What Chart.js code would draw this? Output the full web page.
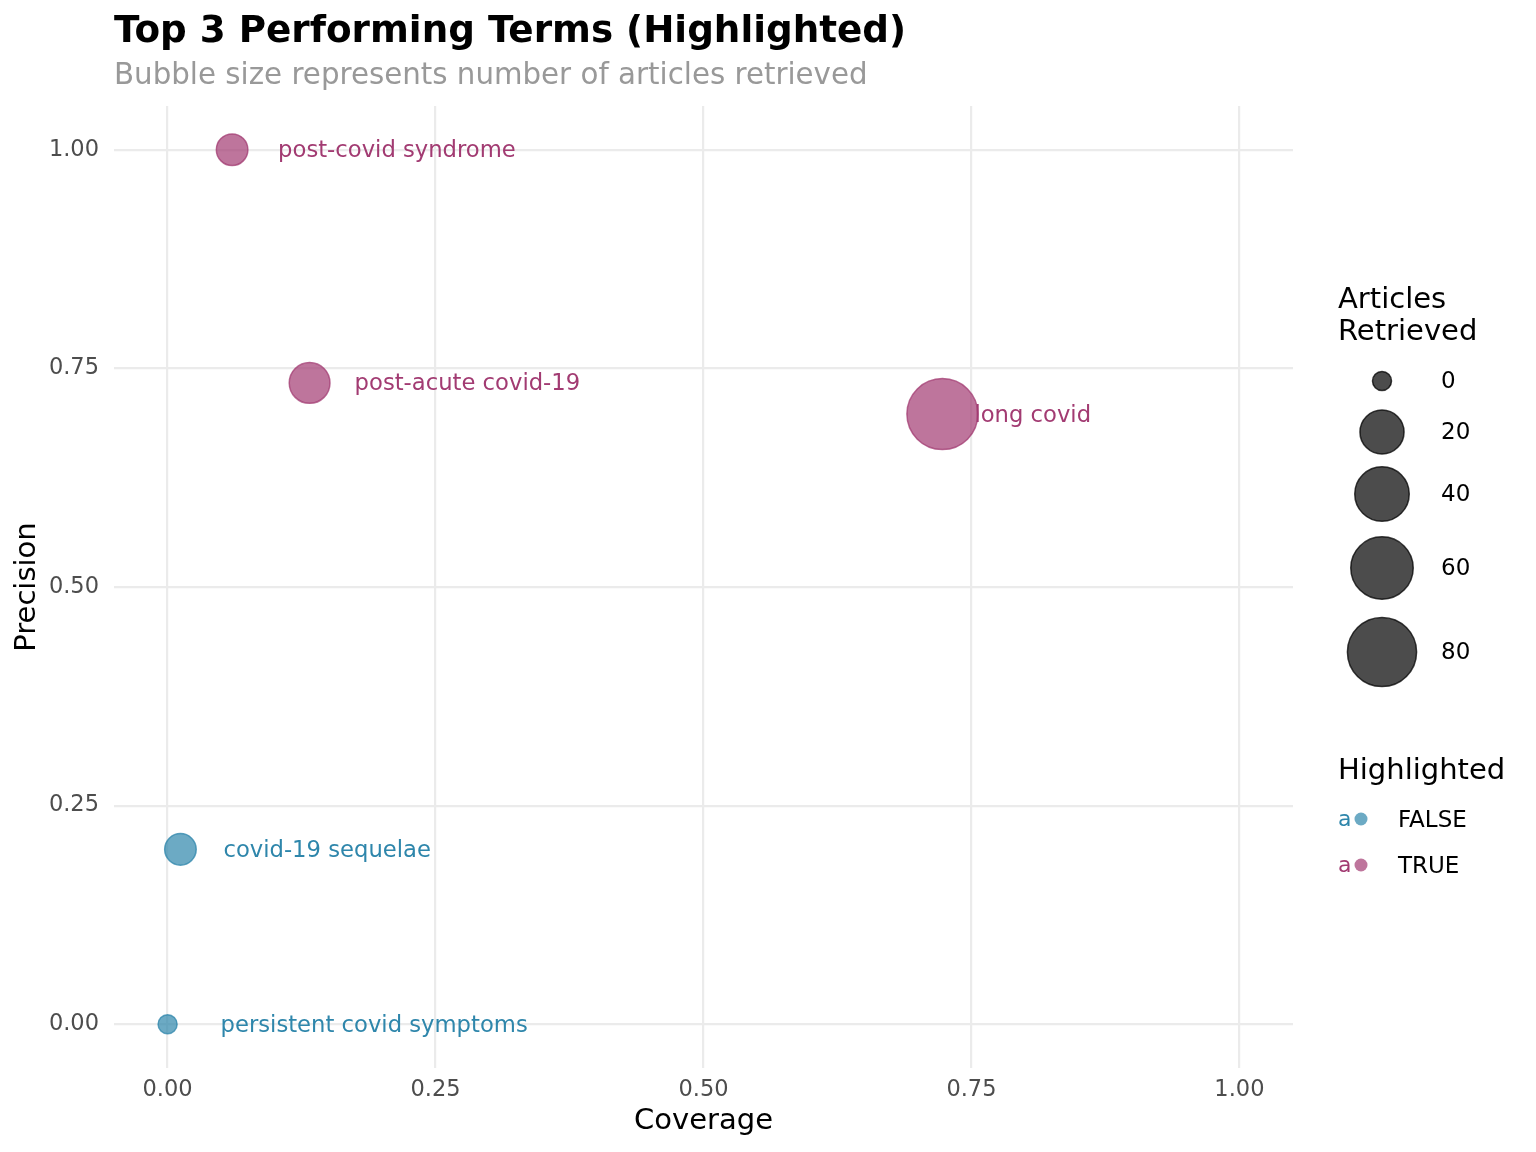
<!DOCTYPE html>
<html>
<head>
<meta charset="utf-8">
<script src="https://cdn.jsdelivr.net/npm/chart.js@4.4.1/dist/chart.umd.min.js"></script>
<style>
html, body { margin: 0; padding: 0; background: #fff; }
#wrap { width: 1536px; height: 1152px; position: relative; }
</style>
</head>
<body>
<div id="wrap"><canvas id="bubblechart"></canvas></div>
<script>
// data
const terms = ['long covid', 'post-acute covid-19', 'post-covid syndrome', 'covid-19 sequelae', 'persistent covid symptoms'];
const coverage = [0.7229, 0.1325, 0.0602, 0.0120, 0.0];
const precision = [0.6977, 0.7333, 1.0, 0.2, 0.0];
const articles = [86, 15, 5, 5, 0];
const highlighted = [true, true, true, false, false];
const tickValues = [0, 0.25, 0.5, 0.75, 1];
const sizeBreaks = [0, 20, 40, 60, 80];

const FONT = 'DejaVu Sans';
const blue = '46,134,171';
const plum = '162,59,114';

// area scale like ggplot's scale_size
const maxArticles = Math.max(...articles);
function sizeFor(n) {
    return 9.5 + 26 * Math.sqrt(n / maxArticles);
}

function makeSet(flag, rgb) {
    const idx = terms.map((t, i) => i).filter(i => highlighted[i] === flag);
    return {
        label: flag ? 'TRUE' : 'FALSE',
        data: idx.map(i => ({ x: coverage[i], y: precision[i], r: sizeFor(articles[i]), term: terms[i], idx: i })),
        backgroundColor: 'rgba(' + rgb + ',0.7)',
        borderColor: 'rgba(' + rgb + ',0.75)',
        borderWidth: 1.5,
        hoverRadius: 0,
        textColor: 'rgb(' + rgb + ')'
    };
}

// nudge (px) of each term label to the right of its bubble
const labelNudge = [32, 45, 46, 43, 53];

const pointLabels = {
    id: 'pointLabels',
    afterDatasetsDraw(chart) {
        const ctx = chart.ctx;
        ctx.save();
        ctx.font = '22.7px "' + FONT + '"';
        ctx.textBaseline = 'middle';
        ctx.textAlign = 'left';
        chart.data.datasets.forEach((ds, di) => {
            const meta = chart.getDatasetMeta(di);
            meta.data.forEach((el, j) => {
                const d = ds.data[j];
                ctx.fillStyle = ds.textColor;
                ctx.fillText(d.term, el.x + labelNudge[d.idx], el.y + 1.5);
            });
        });
        ctx.restore();
    }
};

const headerAndLegend = {
    id: 'headerAndLegend',
    afterDraw(chart) {
        const ctx = chart.ctx;
        ctx.save();
        ctx.textAlign = 'left';
        ctx.textBaseline = 'alphabetic';
        ctx.fillStyle = '#000';
        ctx.font = 'bold 37.3px "' + FONT + '"';
        ctx.fillText('Top 3 Performing Terms (Highlighted)', 114, 42);
        ctx.fillStyle = '#999999';
        ctx.font = '29.3px "' + FONT + '"';
        ctx.fillText('Bubble size represents number of articles retrieved', 114, 84);

        // size legend
        ctx.fillStyle = '#000';
        ctx.font = '29px "' + FONT + '"';
        ctx.textBaseline = 'middle';
        ctx.fillText('Articles', 1338, 300);
        ctx.fillText('Retrieved', 1338, 332);
        const keyY = [381, 432, 494, 568, 652];
        sizeBreaks.forEach((b, i) => {
            ctx.beginPath();
            ctx.arc(1382, keyY[i], sizeFor(b), 0, Math.PI * 2);
            ctx.fillStyle = 'rgba(0,0,0,0.7)';
            ctx.fill();
            ctx.lineWidth = 1.5;
            ctx.strokeStyle = 'rgba(0,0,0,0.75)';
            ctx.stroke();
            ctx.fillStyle = '#000';
            ctx.font = '23px "' + FONT + '"';
            ctx.fillText(String(b), 1441, keyY[i] + 1);
        });

        // highlight legend
        ctx.font = '29px "' + FONT + '"';
        ctx.fillText('Highlighted', 1338, 771);
        [['FALSE', blue, 820], ['TRUE', plum, 866]].forEach(([lab, rgb, y]) => {
            ctx.fillStyle = 'rgb(' + rgb + ')';
            ctx.font = '22px "' + FONT + '"';
            ctx.fillText('a', 1338, y);
            ctx.beginPath();
            ctx.arc(1361, y - 1, 6.5, 0, Math.PI * 2);
            ctx.fillStyle = 'rgba(' + rgb + ',0.7)';
            ctx.fill();
            ctx.fillStyle = '#000';
            ctx.font = '23px "' + FONT + '"';
            ctx.fillText(lab, 1398, y + 1);
        });
        ctx.restore();
    }
};

const gridOpts = { color: '#EBEBEB', lineWidth: 2.2, drawTicks: false };
const tickOpts = { color: '#4D4D4D', font: { family: FONT, size: 22.5 }, callback: v => Number(v).toFixed(2) };

const ctx = document.getElementById('bubblechart').getContext('2d');
const myChart = new Chart(ctx, {
    type: 'bubble',
    data: {
        datasets: [makeSet(false, blue), makeSet(true, plum)]
    },
    options: {
        responsive: true,
        maintainAspectRatio: false,
        animation: false,
        devicePixelRatio: 1,
        layout: { padding: { top: 106, right: 243, left: 0, bottom: 0 } },
        plugins: { legend: { display: false }, tooltip: { enabled: false } },
        scales: {
            x: {
                type: 'linear', min: -0.05, max: 1.05,
                afterBuildTicks: s => { s.ticks = tickValues.map(v => ({ value: v })); },
                afterFit: s => { s.height = 84; },
                ticks: Object.assign({ padding: 9 }, tickOpts),
                grid: gridOpts,
                border: { display: false },
                title: { display: true, text: 'Coverage', color: '#000', font: { family: FONT, size: 29 }, padding: { bottom: 13 } }
            },
            y: {
                type: 'linear', min: -0.05, max: 1.05,
                afterBuildTicks: s => { s.ticks = tickValues.map(v => ({ value: v })); },
                afterFit: s => { s.width = 114; },
                ticks: Object.assign({ padding: 15 }, tickOpts),
                grid: gridOpts,
                border: { display: false },
                title: { display: true, text: 'Precision', color: '#000', font: { family: FONT, size: 29 }, padding: { top: 10 } }
            }
        }
    },
    plugins: [pointLabels, headerAndLegend]
});
</script>
</body>
</html>
